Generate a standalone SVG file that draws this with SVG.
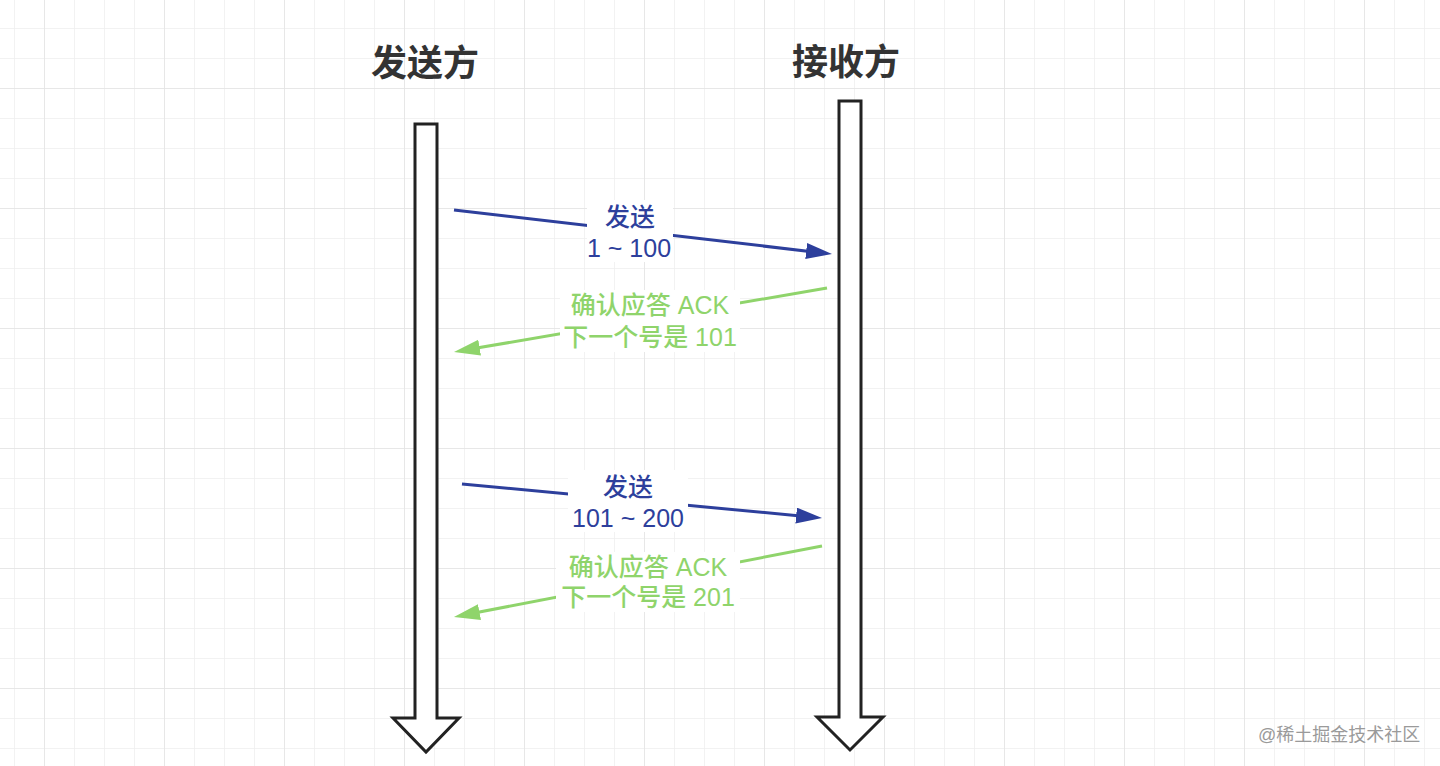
<svg xmlns="http://www.w3.org/2000/svg" width="1440" height="766" viewBox="0 0 1440 766">
  <defs>
    <pattern id="minor" patternUnits="userSpaceOnUse" x="14" y="28" width="30" height="30">
      <path d="M0,0 V30 M0,0 H30" fill="none" stroke="#eeeeee" stroke-width="1.5"/>
    </pattern>
    <pattern id="major" patternUnits="userSpaceOnUse" x="44" y="88" width="120" height="120">
      <path d="M0,0 V120 M0,0 H120" fill="none" stroke="#e4e4e4" stroke-width="1.5"/>
    </pattern>
    <marker id="headBlue" markerUnits="userSpaceOnUse" markerWidth="30" markerHeight="20" refX="12" refY="8" orient="auto">
      <path d="M0,0 L26,8 L0,16 Z" fill="#2d3f9c"/>
    </marker>
    <marker id="headGreen" markerUnits="userSpaceOnUse" markerWidth="30" markerHeight="20" refX="12" refY="8" orient="auto">
      <path d="M0,0 L26,8 L0,16 Z" fill="#8fd46b"/>
    </marker>
  </defs>
  <style>
    .title { font-family: "Liberation Sans", "Noto Sans CJK SC", sans-serif; font-size: 36px; font-weight: bold; fill: #333333; text-anchor: middle; }
    .lbl { font-family: "Liberation Sans", "Noto Sans CJK SC", sans-serif; font-size: 25px; font-weight: 500; text-anchor: middle; }
    .blue { fill: #2d3f9c; }
    .green { fill: #8fd46b; }
    .life { fill: #ffffff; stroke: #222222; stroke-width: 3; stroke-linejoin: miter; }
    .msgB { stroke: #2d3f9c; stroke-width: 3; fill: none; marker-end: url(#headBlue); }
    .msgG { stroke: #8fd46b; stroke-width: 3; fill: none; marker-end: url(#headGreen); }
    .bg { fill: #ffffff; }
    .wm { font-family: "Liberation Sans", "Noto Sans CJK SC", sans-serif; font-size: 18px; fill: #9a9a9a; }
  </style>

  <rect x="0" y="0" width="1440" height="766" fill="#ffffff"/>
  <rect x="0" y="0" width="1440" height="766" fill="url(#minor)"/>
  <rect x="0" y="0" width="1440" height="766" fill="url(#major)"/>

  <g id="sender">
    <text class="title" x="425" y="76">发送方</text>
    <polygon class="life" points="415,124 437,124 437,718 459,718 426,752 393,718 415,718"/>
  </g>

  <g id="receiver">
    <text class="title" x="846" y="75">接收方</text>
    <polygon class="life" points="839,101 861,101 861,717 883,717 850,750 817,717 839,717"/>
  </g>

  <g id="connectors">
    <line class="msgB" x1="454" y1="210" x2="818.1" y2="252.4"/>
    <line class="msgG" x1="827" y1="288" x2="467.8" y2="349.6"/>
    <line class="msgB" x1="462" y1="484" x2="808.1" y2="516.7"/>
    <line class="msgG" x1="822" y1="546" x2="467.7" y2="614.3"/>
  </g>

  <g id="label-send1">
    <rect class="bg" x="587" y="200" width="86" height="62"/>
    <text class="lbl blue" x="630" y="226">发送</text>
    <text class="lbl blue" x="629" y="257">1 ~ 100</text>
  </g>

  <g id="label-ack1">
    <rect class="bg" x="560" y="290" width="180" height="62"/>
    <text class="lbl green" x="650" y="314">确认应答 ACK</text>
    <text class="lbl green" x="650" y="346">下一个号是 101</text>
  </g>

  <g id="label-send2">
    <rect class="bg" x="568" y="470" width="120" height="62"/>
    <text class="lbl blue" x="628" y="496">发送</text>
    <text class="lbl blue" x="628" y="527">101 ~ 200</text>
  </g>

  <g id="label-ack2">
    <rect class="bg" x="556" y="552" width="184" height="60"/>
    <text class="lbl green" x="648" y="576">确认应答 ACK</text>
    <text class="lbl green" x="648" y="606">下一个号是 201</text>
  </g>

  <text class="wm" x="1258" y="741">@稀土掘金技术社区</text>
</svg>
